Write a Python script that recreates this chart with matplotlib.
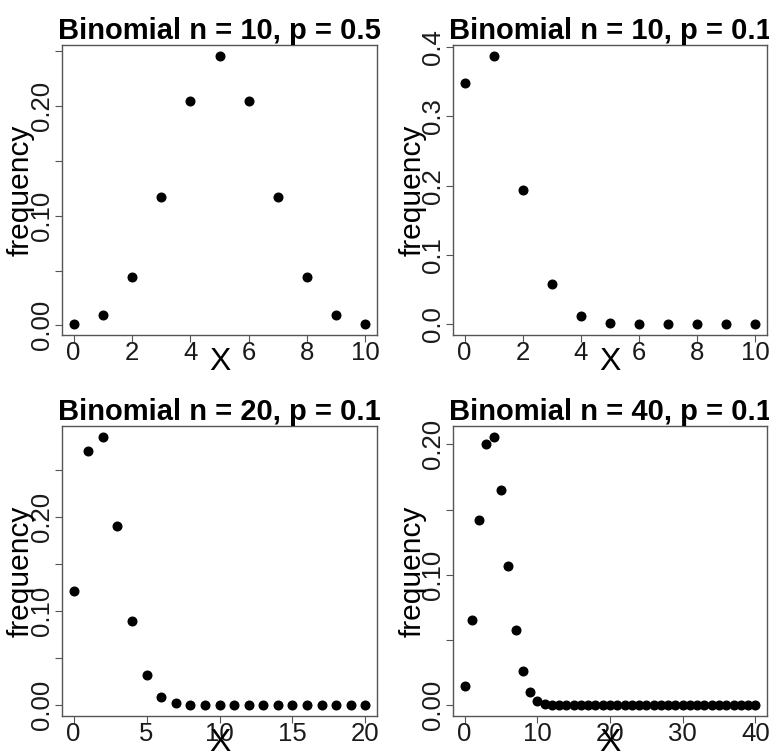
import matplotlib
matplotlib.use("Agg")
from matplotlib import pyplot as plt

plt.rcParams['font.family'] = ['Liberation Sans', 'DejaVu Sans']

# values
x10 = list(range(11))
x20 = list(range(21))
x40 = list(range(41))

freq_10_05 = [0.001, 0.0098, 0.0439, 0.1172, 0.2051, 0.2461, 0.2051, 0.1172, 0.0439, 0.0098, 0.001]
freq_10_01 = [0.3487, 0.3874, 0.1937, 0.0574, 0.0112, 0.0015, 0.0001, 0.0, 0.0, 0.0, 0.0]
freq_20_01 = [0.1216, 0.2702, 0.2852, 0.1901, 0.0898, 0.0319, 0.0089, 0.002, 0.0004, 0.0001,
              0.0, 0.0, 0.0, 0.0, 0.0, 0.0, 0.0, 0.0, 0.0, 0.0, 0.0]
freq_40_01 = [0.0148, 0.0657, 0.1423, 0.2003, 0.2059, 0.1647, 0.1068, 0.0576, 0.0264, 0.0104,
              0.0036, 0.0011, 0.0003, 0.0001] + [0.0] * 27

titles = ["Binomial n = 10, p = 0.5", "Binomial n = 10, p = 0.1",
          "Binomial n = 20, p = 0.1", "Binomial n = 40, p = 0.1"]

xticks = [[0, 2, 4, 6, 8, 10], [0, 2, 4, 6, 8, 10], [0, 5, 10, 15, 20], [0, 10, 20, 30, 40]]
yticks = [[0, 0.05, 0.10, 0.15, 0.20, 0.25], [0, 0.1, 0.2, 0.3, 0.4],
          [0, 0.05, 0.10, 0.15, 0.20, 0.25], [0, 0.05, 0.10, 0.15, 0.20]]
ylabels = [["0.00", "", "0.10", "", "0.20", ""], ["0.0", "0.1", "0.2", "0.3", "0.4"],
           ["0.00", "", "0.10", "", "0.20", ""], ["0.00", "", "0.10", "", "0.20"]]

xs = [x10, x10, x20, x40]
ys = [freq_10_05, freq_10_01, freq_20_01, freq_40_01]

W, H = 769, 755
fig = plt.figure(figsize=(W / 100, H / 100), dpi=100)

# panel boxes in pixels: left, top, right, bottom
boxes = [(62, 45, 377, 335), (453, 45, 767, 335),
         (62, 426, 377, 716), (453, 426, 767, 716)]

edge = "#555555"
for i in range(4):
    l, t, r, b = boxes[i]
    ax = fig.add_axes([l / W, 1 - b / H, (r - l) / W, (b - t) / H])
    x, y = xs[i], ys[i]
    ax.plot(x, y, 'o', color='black', markersize=6.2)

    xr = max(x) - min(x)
    yr = max(y) - min(y)
    ax.set_xlim(min(x) - 0.04 * xr, max(x) + 0.04 * xr)
    ax.set_ylim(min(y) - 0.04 * yr, max(y) + 0.04 * yr)

    ax.set_xticks(xticks[i])
    ax.set_yticks(yticks[i])
    ax.set_yticklabels(ylabels[i], rotation=90, va='center')

    for s in ax.spines.values():
        s.set_color(edge)
        s.set_linewidth(1)
    ax.tick_params(axis='both', length=5, width=0.8, color=edge,
                   labelsize=18.5, labelcolor='#1a1a1a')
    ax.tick_params(axis='x', pad=-0.5)
    ax.tick_params(axis='y', pad=0.5)

    ax.set_title(titles[i], fontsize=21, fontweight='bold', pad=3)
    ax.set_xlabel("X", fontsize=23)
    ax.set_ylabel("frequency", fontsize=21.5)
    ax.xaxis.set_label_coords(0.5, -0.093)
    ax.xaxis.label.set_va('center')
    ax.yaxis.set_label_coords(-0.13, 0.5)
    ax.yaxis.label.set_va('center')

fig.savefig("out.png", dpi=100)
